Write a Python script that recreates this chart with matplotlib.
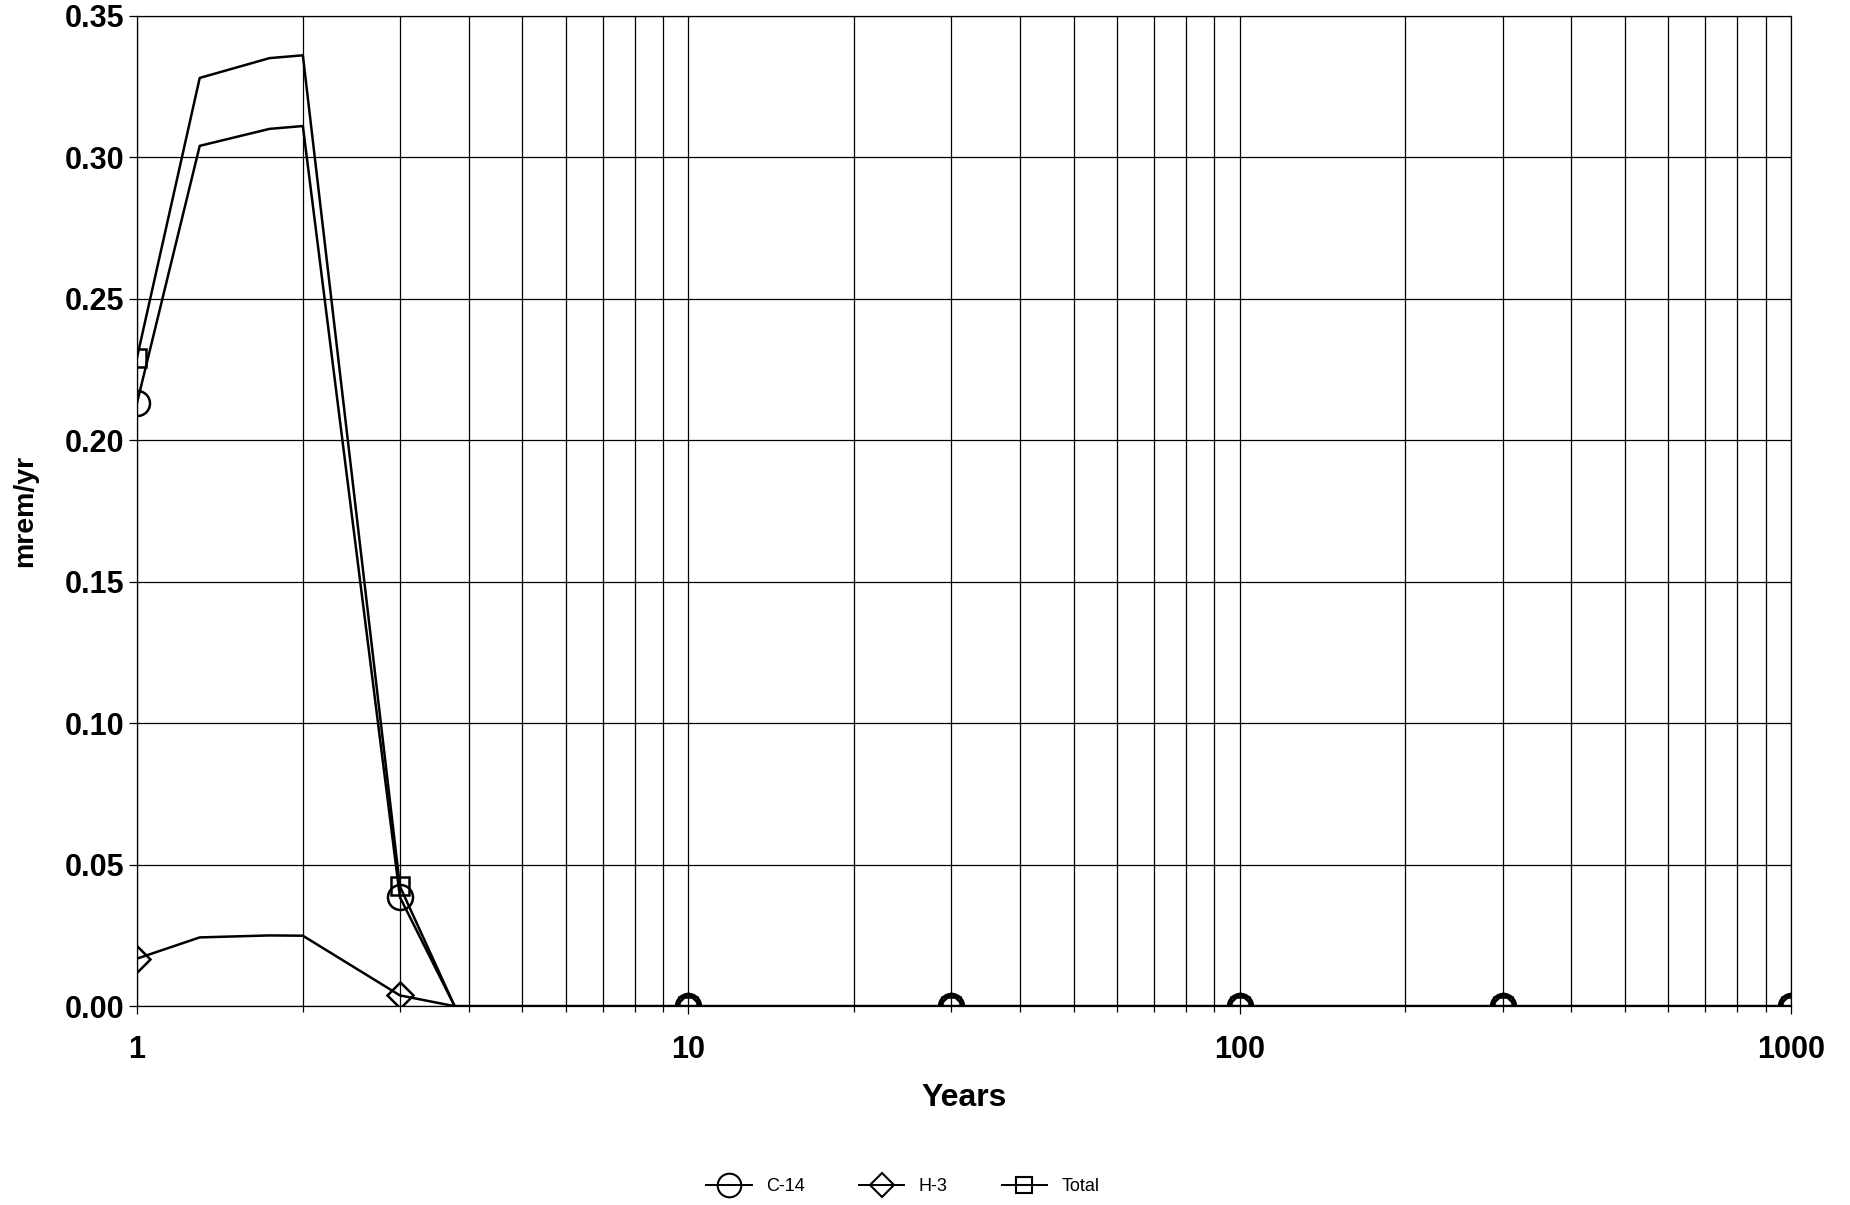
import matplotlib.pyplot as plt
from matplotlib.ticker import FixedLocator, LogLocator, NullFormatter, FormatStrFormatter
from matplotlib.lines import Line2D

# 数据
years = [1, 1.3, 1.74, 2, 3, 3.77, 10, 30, 100, 300, 1000]
c14 = [0.213, 0.304, 0.310, 0.311, 0.0385, 0, 0, 0, 0, 0, 0]
h3 = [0.0168, 0.0243, 0.0250, 0.0249, 0.0038, 0, 0, 0, 0, 0, 0]
total = [0.229, 0.328, 0.335, 0.336, 0.0423, 0, 0, 0, 0, 0, 0]
marker_idx = [0, 4, 6, 7, 8, 9, 10]

x_ticks = [1, 10, 100, 1000]
x_labels = ['1', '10', '100', '1000']

plt.rcParams['font.family'] = ['Liberation Sans', 'DejaVu Sans']

fig = plt.figure(figsize=(18.5, 12.05), dpi=100)
ax = fig.add_axes([0.074, 0.165, 0.894, 0.822])

ax.plot(years, c14, color='black', lw=1.8, marker='o', markersize=18,
        markerfacecolor='none', markeredgewidth=1.8, markevery=marker_idx, zorder=3)
ax.plot(years, h3, color='black', lw=1.8, marker='D', markersize=13,
        markerfacecolor='none', markeredgewidth=1.8, markevery=marker_idx, zorder=3)
ax.plot(years, total, color='black', lw=1.8, marker='s', markersize=13,
        markerfacecolor='none', markeredgewidth=1.8, markevery=marker_idx, zorder=3)

# 坐标轴
ax.set_xscale('log')
ax.set_xlim(1, 1000)
ax.set_ylim(0, 0.35)
ax.xaxis.set_major_locator(FixedLocator(x_ticks))
ax.set_xticklabels(x_labels)
ax.xaxis.set_minor_locator(LogLocator(base=10, subs=range(2, 10)))
ax.xaxis.set_minor_formatter(NullFormatter())
ax.set_yticks([0, 0.05, 0.10, 0.15, 0.20, 0.25, 0.30, 0.35])
ax.yaxis.set_major_formatter(FormatStrFormatter('%.2f'))

ax.grid(True, which='both', axis='x', color='black', lw=0.9)
ax.grid(True, which='major', axis='y', color='black', lw=0.9)
ax.set_axisbelow(True)

ax.tick_params(axis='both', which='major', labelsize=22, length=6, width=0.9)
ax.tick_params(axis='y', which='major', pad=3)
ax.tick_params(axis='x', which='major', pad=15)
ax.tick_params(axis='x', which='minor', length=4, width=0.9)
for lab in ax.get_xticklabels() + ax.get_yticklabels():
    lab.set_fontweight('bold')
for sp in ax.spines.values():
    sp.set_linewidth(0.9)

ax.set_xlabel('Years', fontsize=23, fontweight='bold', labelpad=13)
ax.set_ylabel('mrem/yr', fontsize=20.5, fontweight='bold', labelpad=19)

# 图例
handles = [
    Line2D([], [], color='black', lw=1.4, marker='o', markersize=17, markerfacecolor='none', markeredgewidth=1.5),
    Line2D([], [], color='black', lw=1.4, marker='D', markersize=12, markerfacecolor='none', markeredgewidth=1.5),
    Line2D([], [], color='black', lw=1.4, marker='s', markersize=12, markerfacecolor='none', markeredgewidth=1.5),
]
fig.legend(handles, ['C-14', 'H-3', 'Total'], loc='center', bbox_to_anchor=(0.488, 0.015),
           ncol=3, frameon=False, fontsize=13, handlelength=2.5, handletextpad=0.8,
           columnspacing=3.0)

plt.savefig('out.png', dpi=100)
plt.close()
